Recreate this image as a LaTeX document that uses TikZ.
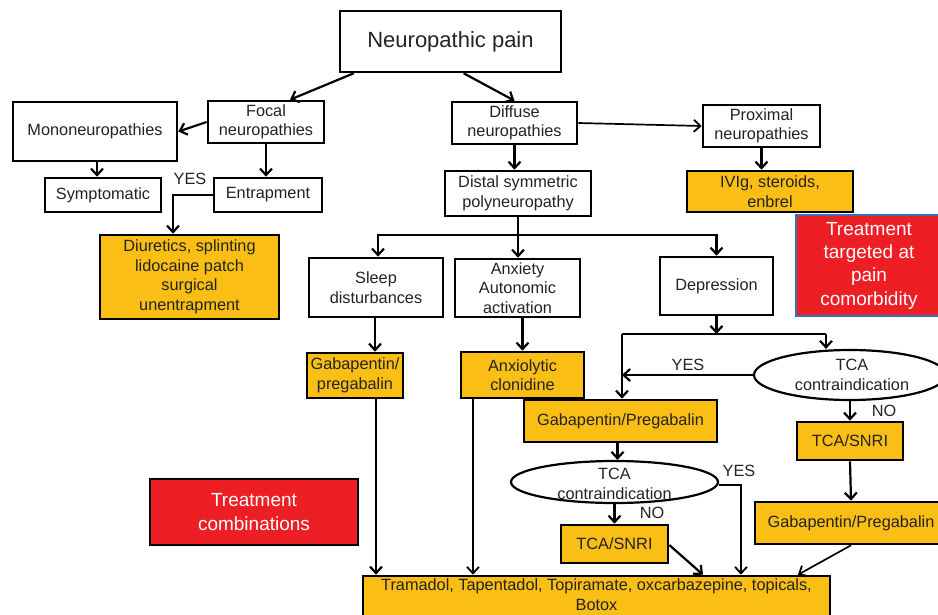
\documentclass[tikz,border=0pt]{standalone}
\usepackage{fontspec}
\setmainfont{Liberation Sans}
\usetikzlibrary{arrows.meta,shapes.geometric,calc}
\definecolor{orng}{RGB}{250,190,20}
\definecolor{redc}{RGB}{237,30,36}
\definecolor{bluec}{RGB}{46,117,182}
\definecolor{txt}{RGB}{35,35,35}
\newcommand{\fsm}{\fontsize{16.3}{19.5}\selectfont}
\newcommand{\flg}{\fontsize{19}{23.3}\selectfont}
\newcommand{\fxl}{\fontsize{22}{26}\selectfont}
\tikzset{
  box/.style={draw=black, line width=2.6pt, fill=white, inner sep=0pt, align=center, font=\fsm, text=txt},
  obox/.style={box, fill=orng},
  rbox/.style={box, fill=redc, text=white, font=\flg},
  ell/.style={ellipse, draw=black, line width=2.2pt, fill=white, inner sep=0pt},
  lbl/.style={font=\fsm, text=txt, inner sep=0pt},
  arr/.style={-{Straight Barb[length=6.5pt,width=12pt,line width=2.2pt]}, line width=2.2pt},
  tarr/.style={-{Straight Barb[length=6.5pt,width=12pt,line width=1.8pt]}, line width=1.7pt},
  ln/.style={line width=2.2pt},
}
\begin{document}
\begin{tikzpicture}[x=1pt,y=-1pt]
\useasboundingbox (0,0) rectangle (938,614);
\fill[white] (0,0) rectangle (938,614);
\clip (0,0) rectangle (938,614);

% nodes
\node[box, font=\fxl, minimum width=221pt, minimum height=61pt] (pain) at (450.5,41.5) {Neuropathic pain};
\node[box, minimum width=116pt, minimum height=42pt] (focal) at (266,122) {Focal\\neuropathies};
\node[box, minimum width=164pt, minimum height=59pt] (mono) at (95,131.5) {Mononeuropathies};
\node[box, minimum width=116pt, minimum height=34pt] (sympt) at (103,195) {Symptomatic};
\node[box, minimum width=108pt, minimum height=34pt] (entrap) at (268,195) {Entrapment};
\node[obox, minimum width=179pt, minimum height=84pt] (diur) at (189.5,277) {Diuretics, splinting\\lidocaine patch\\surgical\\unentrapment};
\node[box, minimum width=125pt, minimum height=42pt] (diffuse) at (514.5,123) {Diffuse\\neuropathies};
\node[box, minimum width=117pt, minimum height=42pt] (prox) at (761.5,126) {Proximal\\neuropathies};
\node[box, minimum width=146pt, minimum height=45pt] (distal) at (518,193.5) {Distal symmetric\\polyneuropathy};
\node[obox, minimum width=166pt, minimum height=41pt] (ivig) at (770,191.5) {IVIg, steroids,\\enbrel};
\node[rbox, draw=bluec, minimum width=146pt, minimum height=101pt] (target) at (869,265.5) {Treatment\\targeted at\\pain\\comorbidity};
\node[box, minimum width=134pt, minimum height=59pt] (sleep) at (376,287.5) {Sleep\\disturbances};
\node[box, minimum width=125pt, minimum height=58pt] (anx) at (517.5,288) {Anxiety\\Autonomic\\activation};
\node[box, minimum width=113pt, minimum height=58pt] (depr) at (716.5,286) {Depression};
\node[obox, minimum width=96pt, minimum height=45pt] (gabL) at (355,375.5) {Gabapentin/\\pregabalin};
\node[obox, minimum width=123pt, minimum height=46pt] (anxio) at (522.5,375) {Anxiolytic\\clonidine};
\node[obox, minimum width=193pt, minimum height=42pt] (gabM) at (620.5,421) {Gabapentin/Pregabalin};
\node[ell, minimum width=192pt, minimum height=50pt] (ellR) at (850,375) {};
\node[obox, minimum width=106pt, minimum height=38pt] (tcaR) at (850,441) {TCA/SNRI};
\node[obox, minimum width=192pt, minimum height=42pt] (gabR) at (851,523) {Gabapentin/Pregabalin};
\node[ell, minimum width=207pt, minimum height=42pt] (ellM) at (614.5,482) {};
\node[obox, minimum width=107pt, minimum height=38pt] (tcaM) at (614.5,544) {TCA/SNRI};
\node[obox, minimum width=467pt, minimum height=42pt] (tram) at (596.5,597) {};
\node[lbl, align=center] (tramt) at (596.5,594.5) {Tramadol, Tapentadol, Topiramate, oxcarbazepine, topicals,\\Botox};
\node[rbox, minimum width=208pt, minimum height=66pt] (combo) at (254,512) {Treatment\\combinations};

% labels
\node[lbl] (yes1) at (190,179) {YES};
\node[lbl] (yes2) at (688,365) {YES};
\node[lbl] (no1) at (884,411) {NO};
\node[lbl] (yes3) at (739,471) {YES};
\node[lbl] (no2) at (652,513) {NO};

% connectors top
\draw[arr] ($(pain.south west)+(15,0)$) -- ($(focal.north)+(24,0)$);
\draw[arr] ($(pain.south west)+(125,0)$) -- (diffuse.north);
\draw[arr] (focal.west) -- (mono.east);
\draw[arr] (focal.south) -- (focal.south |- entrap.north);
\draw[arr] ($(mono.south)+(2,0)$) -- ($(mono.south |- sympt.north)+(2,0)$);
\draw[arr] (entrap.west) -| ($(diur.north)+(-16.5,0)$);
\draw[tarr] (diffuse.east) -- (prox.west);
\draw[arr] (diffuse.south) -- (diffuse.south |- distal.north);
\draw[arr] (prox.south) -- (prox.south |- ivig.north);

% bus under distal
\coordinate (busD) at (518,235);
\draw[ln] (distal.south) -- (busD);
\draw[arr] (busD) -| ($(sleep.north)+(2,0)$);
\draw[arr] (busD) -| (depr.north);
\draw[arr] (busD) -- (busD |- anx.north);

\draw[arr] ($(sleep.south)+(-1,0)$) -- ($(sleep.south |- gabL.north)+(-1,0)$);
\draw[arr] ($(gabL.south)+(21,0)$) -- ($(gabL.south |- tram.north)+(21,0)$);
\draw[arr] (anxio.north |- anx.south) -- (anxio.north);
\draw[tarr] ($(anxio.south)+(-49.5,0)$) -- ($(anxio.south |- tram.north)+(-49.5,0)$);

% bus under depression
\coordinate (busL) at (622,334);
\coordinate (busR) at (826,334);
\draw[arr] (depr.south) -- (depr.south |- busL);
\draw[ln] (busL) -- (busR);
\draw[arr] (busR) -- (busR |- ellR.north);
\draw[arr] (busL) -- (busL |- gabM.north);
\draw[arr] (ellR.west) -- (busL |- ellR.west);
\draw[arr] (ellR.south) -- (tcaR.north);
\draw[arr] (tcaR.south) -- (gabR.north);
\draw[tarr] (gabR.south) -- ($(tram.north)+(201.5,0)$);

% middle chain
\draw[arr] ($(gabM.south)+(-3,0)$) -- ($(gabM.south |- ellM.north)+(-3,0)$);
\draw[tarr] ($(ellM.east)+(0,3)$) -| ($(tram.north)+(144.5,0)$);
\draw[arr] (ellM.south) -- (tcaM.north);
\draw[arr] ($(tcaM.east)+(0,1)$) -- ($(tram.north)+(106.5,0)$);

% ellipse texts above lines
\node[lbl, align=center] (ellRt) at (852,375) {TCA\\contraindication};
\node[lbl, align=center] (ellMt) at (614.5,484) {TCA\\contraindication};
\end{tikzpicture}
\end{document}
